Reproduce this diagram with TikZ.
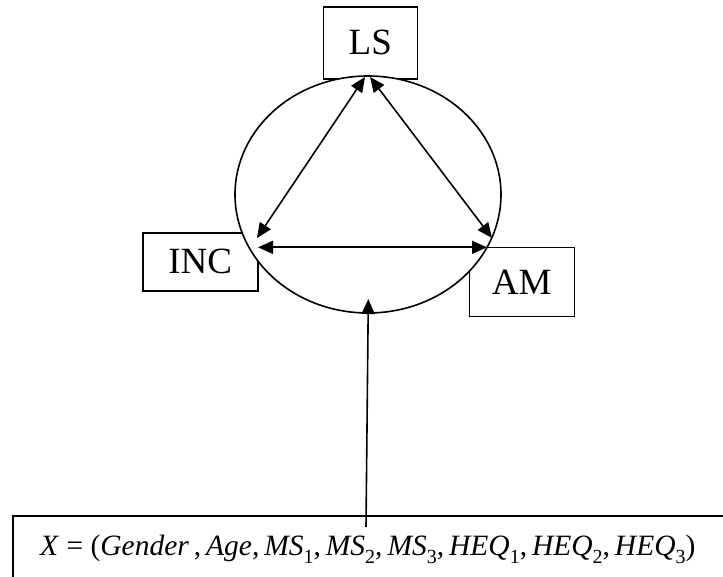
\documentclass[tikz,border=0pt]{standalone}
\usepackage{fontspec}
\setmainfont{Liberation Serif}
\usetikzlibrary{shapes.geometric,arrows.meta}
\newcommand\sbx[1]{\raisebox{-8pt}{\fontsize{20}{20}\selectfont #1}}
\begin{document}
\begin{tikzpicture}[x=1pt,y=-1pt,
  lbl/.style={draw,line width=1.6pt,inner sep=0pt,font=\fontsize{37}{37}\selectfont},
  rel/.style={line width=1.6pt,{Triangle[length=15pt,width=13pt]}-{Triangle[length=15pt,width=13pt]}},
  onearrow/.style={line width=1.6pt,-{Triangle[length=15pt,width=13pt]}}]
\clip (0,0) rectangle (723,577);
\fill[white] (0,0) rectangle (723,577);
% boxes
\node[lbl,minimum width=94pt,minimum height=72pt] (LS) at (370.3,42.8) {\raisebox{-4pt}{LS}};
\node[lbl,minimum width=115pt,minimum height=58pt] (INC) at (200.2,261.9) {\raisebox{-4pt}{INC}};
\node[lbl,minimum width=105pt,minimum height=69pt] (AM) at (521.8,282) {\raisebox{-4pt}{AM}};
% ellipse
\node[ellipse,draw,fill=white,line width=1.6pt,minimum width=266pt,minimum height=237pt,inner sep=0pt] (E) at (368,194.5) {};
% arrow end points
\coordinate (lsA) at (365,77);
\coordinate (lsB) at (370,77);
\coordinate (incA) at (257,238);
\coordinate (incB) at (258,247.3);
\coordinate (amA) at (492,238);
\coordinate (amB) at (487,247.3);
\coordinate (eBot) at (368.3,299);
\coordinate (xTop) at (366,527);
\draw[rel] (lsA) -- (incA);
\draw[rel] (lsB) -- (amA);
\draw[rel] (incB) -- (amB);
% bottom box
\node[draw,line width=1.6pt,anchor=north west,minimum width=760pt,minimum height=90pt,inner sep=0pt] (Xbox) at (12.3,515) {};
\node[anchor=base west,inner sep=0pt,font=\fontsize{29.5}{29.5}\selectfont] (X) at (40,555)
 {\textit{X} = (\textit{Gender}\,,\,\textit{Age},\,\textit{MS}\sbx{1},\,\textit{MS}\sbx{2},\,\textit{MS}\sbx{3},\,\textit{HEQ}\sbx{1},\,\textit{HEQ}\sbx{2},\,\textit{HEQ}\sbx{3})};
\draw[onearrow] (xTop) -- (eBot);
\end{tikzpicture}
\end{document}
